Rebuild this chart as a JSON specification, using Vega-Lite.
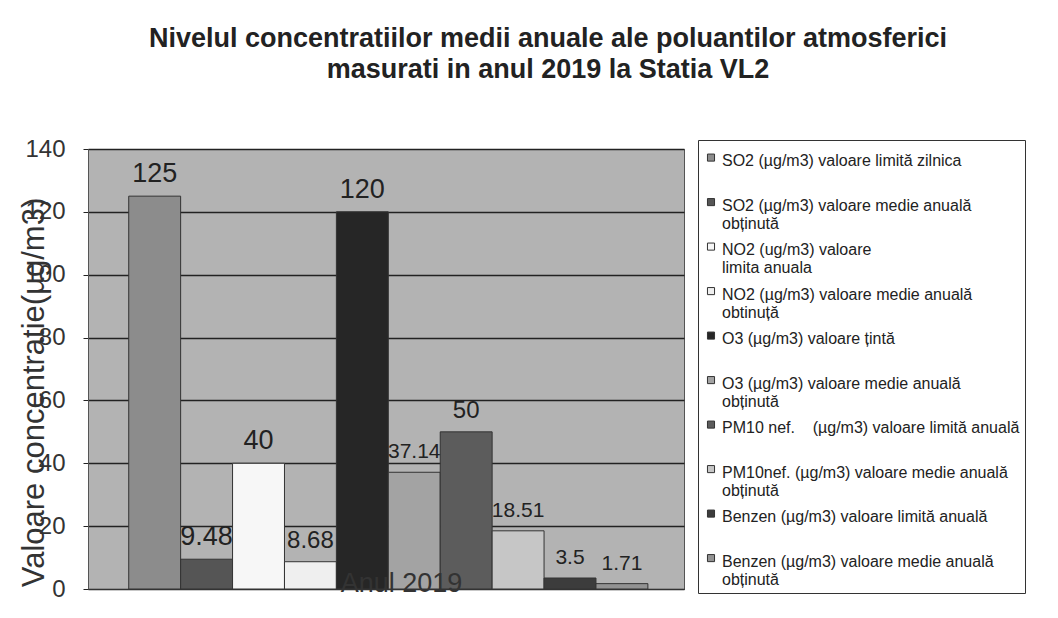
{
  "$schema": "https://vega.github.io/schema/vega-lite/v6.json",
  "width": 596,
  "height": 440,
  "autosize": {"type": "none"},
  "padding": {"left": 88, "top": 149, "right": 374, "bottom": 29},
  "background": "white",
  "title": {
    "text": ["Nivelul concentratiilor medii anuale ale poluantilor atmosferici", "masurati in anul 2019 la Statia VL2"],
    "fontSize": 27,
    "font": "Liberation Sans",
    "fontWeight": "bold",
    "color": "#222222",
    "anchor": "middle",
    "frame": "group",
    "dx": 162,
    "offset": 53,
    "lineHeight": 31
  },
  "data": {
    "values": [
      {"series": "SO2 (µg/m3) valoare limită zilnica", "value": 125},
      {"series": "SO2 (µg/m3) valoare medie anuală\nobținută", "value": 9.48},
      {"series": " NO2 (ug/m3) valoare\n limita anuala", "value": 40},
      {"series": "NO2 (µg/m3) valoare medie anuală\nobtinuță", "value": 8.68},
      {"series": "O3 (µg/m3) valoare țintă", "value": 120},
      {"series": "O3 (µg/m3) valoare medie anuală\nobținută", "value": 37.14},
      {"series": "PM10 nef.    (µg/m3) valoare limită anuală", "value": 50},
      {"series": "PM10nef. (µg/m3) valoare medie anuală\nobținută", "value": 18.51},
      {"series": "Benzen (µg/m3) valoare limită anuală", "value": 3.5},
      {"series": "Benzen (µg/m3) valoare medie anuală\nobținută", "value": 1.71}
    ]
  },
  "encoding": {
    "x": {
      "field": "series",
      "type": "nominal",
      "sort": null,
      "scale": {"paddingInner": 0, "paddingOuter": 0.74, "align": 0.53},
      "axis": {
        "labels": false,
        "ticks": false,
        "title": "Anul 2019",
        "titleFont": "Liberation Sans",
        "titleFontSize": 27,
        "titleFontWeight": "normal",
        "titleColor": "#333333",
        "titleX": 313,
        "titleY": 2,
        "titleAlign": "center",
        "titleBaseline": "alphabetic",
        "domainColor": "#333333",
        "zindex": 1
      }
    },
    "y": {
      "field": "value",
      "type": "quantitative",
      "scale": {"domain": [0, 140]},
      "axis": {
        "values": [0, 20, 40, 60, 80, 100, 120, 140],
        "title": "Valoare concentratie(µg/m3)",
        "titleFont": "Liberation Sans",
        "titleFontSize": 31,
        "titleFontWeight": "normal",
        "titleColor": "#333333",
        "titleX": -54,
        "titleY": 243,
        "titleAlign": "center",
        "titleBaseline": "middle",
        "labelFont": "Liberation Sans",
        "labelFontSize": 24,
        "labelColor": "#333333",
        "labelPadding": 18,
        "tickSize": 5,
        "tickColor": "#222222",
        "grid": true,
        "gridColor": "#222222",
        "gridWidth": 1.4,
        "domainColor": "#555555",
        "zindex": 0
      }
    }
  },
  "layer": [
    {
      "mark": {"type": "bar", "stroke": "#333333", "strokeWidth": 1},
      "encoding": {
        "color": {
          "field": "series",
          "type": "nominal",
          "sort": null,
          "scale": {"range": ["#8c8c8c", "#555555", "#f7f7f7", "#efefef", "#262626", "#a3a3a3", "#5c5c5c", "#c6c6c6", "#3c3c3c", "#929292"]},
          "legend": {
            "orient": "none",
            "legendX": 610,
            "legendY": -9,
            "title": null,
            "labelExpr": "split(replace(datum.label, '    ', '\u00a0\u00a0\u00a0\u00a0'), '\\n')",
            "labelFont": "Liberation Sans",
            "labelFontSize": 16,
            "labelColor": "#222222",
            "labelBaseline": "top",
            "labelLimit": 0,
            "labelOffset": 3,
            "symbolType": "M-1,0.3H1V2.3H-1Z",
            "symbolSize": 50,
            "symbolStrokeColor": "#333333",
            "symbolStrokeWidth": 1,
            "rowPadding": 2.5,
            "gridAlign": "all",
            "columns": 1,
            "padding": 5,
            "strokeColor": "#333333",
            "fillColor": "white"
          }
        }
      }
    },
    {
      "mark": {"type": "text", "baseline": "alphabetic", "dy": -14, "font": "Liberation Sans", "color": "#222222"},
      "encoding": {
        "text": {"field": "value", "type": "quantitative"},
        "size": {
          "condition": [
            {"test": "datum.value == 125 || datum.value == 120 || datum.value == 40 || datum.value == 9.48", "value": 27},
            {"test": "datum.value == 50 || datum.value == 8.68", "value": 24}
          ],
          "value": 21
        }
      }
    }
  ],
  "config": {
    "view": {"fill": "#b3b3b3", "stroke": "#555555"},
    "font": "Liberation Sans"
  }
}
